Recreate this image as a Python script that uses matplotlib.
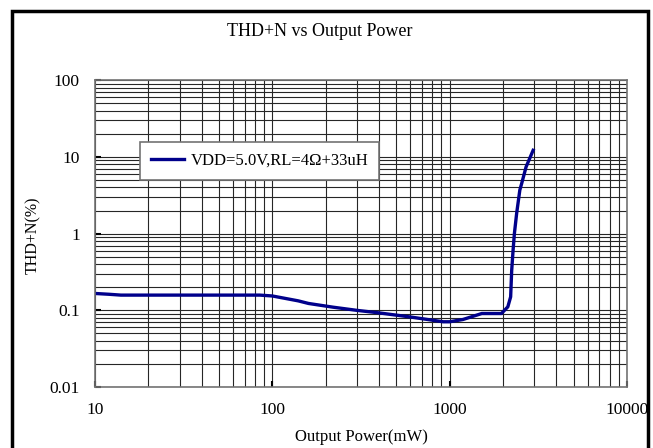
import numpy as np
import matplotlib
matplotlib.use("Agg")
import matplotlib.pyplot as plt
from matplotlib.patches import Rectangle

plt.rcParams['font.family'] = ['Liberation Serif', 'DejaVu Serif']

# THD+N vs output power
power_mw = [10, 12, 14, 20, 40, 85, 100, 140, 160, 220, 300, 395, 600, 920,
            1000, 1190, 1520, 1960, 2130, 2210, 2240, 2280, 2320, 2390,
            2490, 2550, 2700, 2960]
thd_pct = [0.166, 0.162, 0.158, 0.158, 0.158, 0.158, 0.154, 0.133, 0.123,
           0.11, 0.10, 0.093, 0.082, 0.071, 0.071, 0.076, 0.091, 0.091,
           0.111, 0.15, 0.33, 0.6, 1.0, 1.85, 3.7, 4.5, 7.4, 12.2]

x_ticks = [10, 100, 1000, 10000]
x_labels = ['10', '100', '1000', '10000']
y_ticks = [0.01, 0.1, 1, 10, 100]
y_labels = ['0.01', '0.1', '1', '10', '100']

fig = plt.figure(figsize=(6.53, 4.48), dpi=100)
ax = fig.add_axes([0.1455, 0.136, 0.8145, 0.685])

ax.plot(power_mw, thd_pct, color='#00008b', lw=2.4,
        label='VDD=5.0V,RL=4\u03a9+33uH')

ax.set_xscale('log')
ax.set_yscale('log')
ax.set_xlim(10, 10000)
ax.set_ylim(0.01, 100)

ax.set_xticks(x_ticks)
ax.set_xticklabels(x_labels)
ax.set_yticks(y_ticks)
ax.set_yticklabels(y_labels)
ax.tick_params(which='minor', length=0)
ax.tick_params(which='major', direction='in', length=4, width=1.5,
               labelsize=12.5, pad=11)

ax.grid(True, which='both', color='0.15', lw=0.8)
ax.set_axisbelow(True)
for s in ax.spines.values():
    s.set_color('0.45')
    s.set_linewidth(1.2)

fig.text(0.49, 1 - 32 / 448, 'THD+N vs Output Power', fontsize=13,
         ha='center', va='center')
ax.set_xlabel('Output Power(mW)', fontsize=12, labelpad=8)
fig.text(33 / 653, 1 - 235 / 448, 'THD+N(%)', fontsize=11.5,
         rotation=90, ha='center', va='center')

leg = ax.legend(loc='upper left', bbox_to_anchor=(0.0846, 0.798),
                borderaxespad=0, fontsize=12, fancybox=False, framealpha=1,
                edgecolor='0.45', handlelength=2.0, handletextpad=0.4,
                borderpad=0.65)
leg.get_frame().set_linewidth(1.2)

# black outer frame around the whole chart
fig.patches.append(Rectangle((0.019, -0.05), 0.973, 1.025,
                             transform=fig.transFigure, fill=False,
                             ec='black', lw=2.5))

fig.savefig('out.png', dpi=100)
